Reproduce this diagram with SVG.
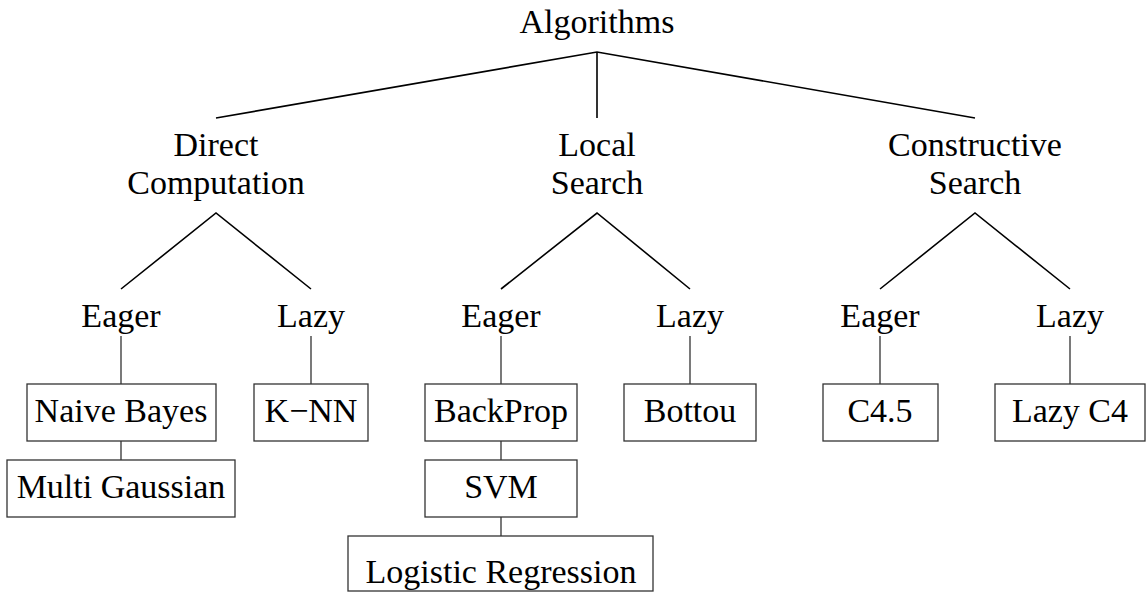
<svg xmlns="http://www.w3.org/2000/svg" width="1147" height="592" viewBox="0 0 1147 592">
<style>
text{font-family:"Liberation Serif","Times New Roman",serif;font-size:34px;fill:#000;text-anchor:middle}
.t{stroke:#000;stroke-width:1.6;fill:none}
.c{stroke:#333;stroke-width:1.3;fill:none}
rect{fill:#fff;stroke:#333;stroke-width:1.3}
</style>
<rect x="0" y="0" width="1147" height="592" style="stroke:none"/>
<g id="connectors">
<path class="t" d="M216,118 L597,52 L975,118 M597,52 L597,118"/>
<path class="t" d="M121,289 L216,213 L311,289"/>
<path class="t" d="M501,289 L597,213 L690,289"/>
<path class="t" d="M880,289 L975,213 L1070,289"/>
<path class="c" d="M121,336 V384 M311,336 V384 M501,336 V384 M690,336 V384 M880,336 V384 M1070,336 V384"/>
<path class="c" d="M121,441 V460 M501,441 V460 M501,517 V536"/>
</g>
<g id="algorithms"><text x="597" y="33">Algorithms</text></g>
<g id="direct"><text x="216" y="156">Direct</text><text x="216" y="194">Computation</text></g>
<g id="local"><text x="597" y="156">Local</text><text x="597" y="194">Search</text></g>
<g id="constructive"><text x="975" y="156">Constructive</text><text x="975" y="194">Search</text></g>
<g id="eager1"><text x="121" y="327">Eager</text></g>
<g id="lazy1"><text x="311" y="327">Lazy</text></g>
<g id="eager2"><text x="501" y="327">Eager</text></g>
<g id="lazy2"><text x="690" y="327">Lazy</text></g>
<g id="eager3"><text x="880" y="327">Eager</text></g>
<g id="lazy3"><text x="1070" y="327">Lazy</text></g>
<g id="naivebayes"><rect x="27" y="384" width="189" height="57"/><text x="121" y="422">Naive Bayes</text></g>
<g id="multigaussian"><rect x="7" y="460" width="228" height="57"/><text x="121" y="498">Multi Gaussian</text></g>
<g id="knn"><rect x="254" y="384" width="114" height="57"/><text x="311" y="422">K−NN</text></g>
<g id="backprop"><rect x="425" y="384" width="152" height="57"/><text x="501" y="422">BackProp</text></g>
<g id="svm"><rect x="425" y="460" width="152" height="57"/><text x="501" y="498">SVM</text></g>
<g id="logreg"><rect x="348" y="536" width="305" height="55"/><text x="501" y="583">Logistic Regression</text></g>
<g id="bottou"><rect x="624" y="384" width="132" height="57"/><text x="690" y="422">Bottou</text></g>
<g id="c45"><rect x="823" y="384" width="115" height="57"/><text x="880" y="422">C4.5</text></g>
<g id="lazyc4"><rect x="995" y="384" width="150" height="57"/><text x="1070" y="422">Lazy C4</text></g>
</svg>
